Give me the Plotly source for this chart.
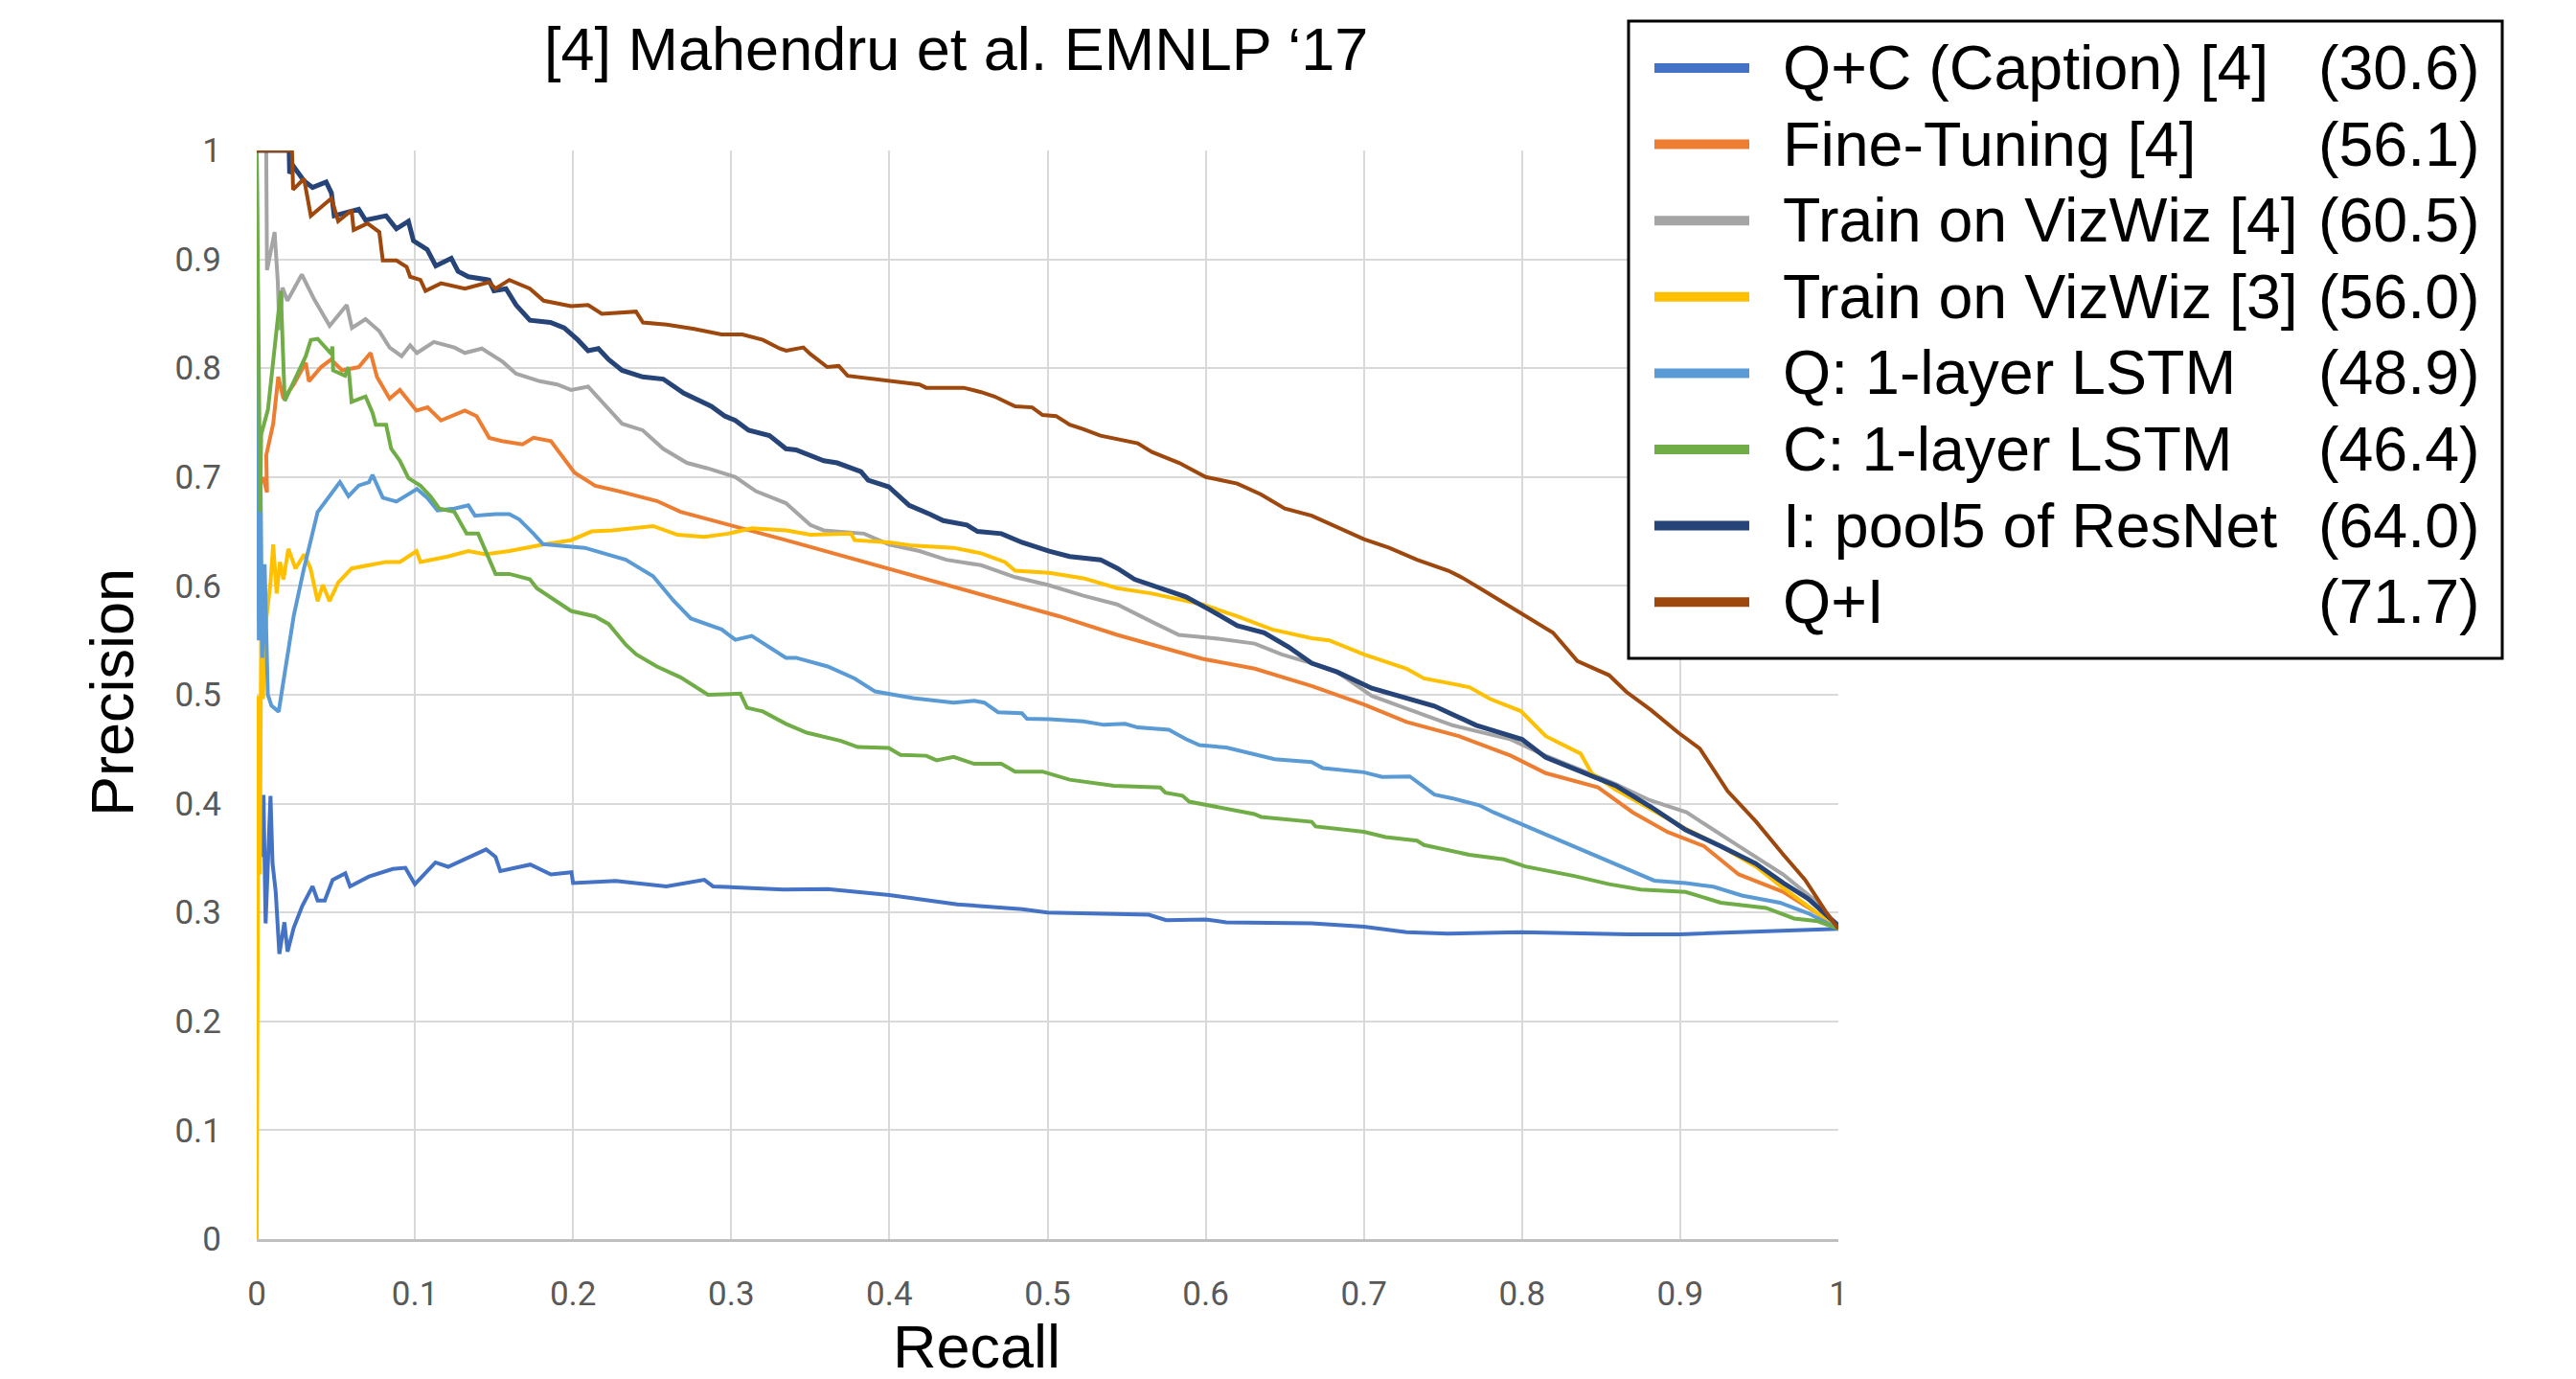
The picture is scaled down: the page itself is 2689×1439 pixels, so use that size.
import plotly.graph_objects as go

# ---------------- data ----------------
names = ["Q+C (Caption) [4]", "Fine-Tuning [4]", "Train on VizWiz [4]", "Train on VizWiz [3]",
         "Q: 1-layer LSTM", "C: 1-layer LSTM", "I: pool5 of ResNet", "Q+I"]
scores = ["(30.6)", "(56.1)", "(60.5)", "(56.0)", "(48.9)", "(46.4)", "(64.0)", "(71.7)"]
colors = ["#4472C4", "#ED7D31", "#A5A5A5", "#FFC000", "#5B9BD5", "#70AD47", "#264478", "#9E480E"]

qc_caption = [(0.0035, 0.351), (0.0043, 0.408), (0.0056, 0.29), (0.0087, 0.407), (0.010, 0.345),
              (0.012, 0.319), (0.0143, 0.262), (0.0175, 0.291), (0.0195, 0.264), (0.0234, 0.286),
              (0.0288, 0.306), (0.0353, 0.324), (0.0385, 0.311), (0.043, 0.311), (0.048, 0.330),
              (0.056, 0.336), (0.059, 0.324), (0.071, 0.333), (0.086, 0.340), (0.094, 0.341),
              (0.100, 0.326), (0.113, 0.346), (0.121, 0.342), (0.134, 0.351), (0.145, 0.358),
              (0.151, 0.351), (0.154, 0.338), (0.173, 0.344), (0.186, 0.335), (0.199, 0.337),
              (0.200, 0.327), (0.227, 0.329), (0.259, 0.324), (0.283, 0.330), (0.2885, 0.324),
              (0.333, 0.321), (0.361, 0.3215), (0.400, 0.316), (0.443, 0.3075), (0.484, 0.303),
              (0.500, 0.300), (0.564, 0.298), (0.575, 0.293), (0.600, 0.2935), (0.613, 0.291),
              (0.667, 0.290), (0.700, 0.287), (0.727, 0.282), (0.753, 0.2805), (0.799, 0.282),
              (0.868, 0.280), (0.900, 0.280), (0.961, 0.283), (1.0, 0.285)]

fine_tuning = [(0.004, 0.70), (0.0065, 0.686), (0.006, 0.72), (0.0104, 0.749), (0.0136, 0.792),
               (0.0169, 0.772), (0.0234, 0.785), (0.031, 0.805), (0.033, 0.788), (0.0407, 0.801),
               (0.047, 0.808), (0.054, 0.798), (0.0645, 0.801), (0.072, 0.814), (0.076, 0.792),
               (0.084, 0.772), (0.0905, 0.780), (0.101, 0.761), (0.108, 0.764), (0.1165, 0.752),
               (0.1316, 0.761), (0.139, 0.756), (0.147, 0.736), (0.155, 0.733), (0.168, 0.730),
               (0.175, 0.736), (0.186, 0.733), (0.2009, 0.704), (0.214, 0.692), (0.229, 0.687),
               (0.253, 0.678), (0.268, 0.668), (0.3346, 0.642), (0.4946, 0.577), (0.5076, 0.572),
               (0.544, 0.555), (0.598, 0.533), (0.631, 0.524), (0.667, 0.508), (0.700, 0.491),
               (0.727, 0.475), (0.760, 0.462), (0.793, 0.444), (0.815, 0.428), (0.848, 0.415),
               (0.870, 0.392), (0.892, 0.374), (0.915, 0.361), (0.937, 0.335), (0.965, 0.319),
               (0.987, 0.299), (1.0, 0.285)]

vizwiz4 = [(0.0, 1.0), (0.006, 1.0), (0.0065, 0.89), (0.0113, 0.925), (0.0133, 0.88),
           (0.0143, 0.835), (0.0163, 0.874), (0.0194, 0.862), (0.0285, 0.886), (0.0364, 0.863),
           (0.0461, 0.839), (0.0569, 0.858), (0.0602, 0.837), (0.0688, 0.845), (0.0775, 0.834),
           (0.084, 0.819), (0.0916, 0.811), (0.097, 0.821), (0.1013, 0.814), (0.112, 0.824),
           (0.125, 0.819), (0.1316, 0.814), (0.1424, 0.818), (0.1554, 0.806), (0.164, 0.795),
           (0.179, 0.788), (0.190, 0.785), (0.1987, 0.780), (0.2095, 0.783), (0.218, 0.770),
           (0.231, 0.749), (0.244, 0.743), (0.257, 0.726), (0.272, 0.713), (0.285, 0.708),
           (0.3026, 0.700), (0.3156, 0.687), (0.3346, 0.676), (0.35, 0.656), (0.3585, 0.651),
           (0.384, 0.648), (0.400, 0.638), (0.419, 0.632), (0.436, 0.624), (0.458, 0.619),
           (0.4795, 0.608), (0.500, 0.601), (0.5227, 0.591), (0.544, 0.583), (0.566, 0.567),
           (0.583, 0.555), (0.605, 0.552), (0.631, 0.547), (0.648, 0.537), (0.667, 0.529),
           (0.683, 0.521), (0.705, 0.499), (0.756, 0.472), (0.793, 0.459), (0.815, 0.444),
           (0.859, 0.418), (0.881, 0.403), (0.904, 0.392), (0.937, 0.361), (0.965, 0.335),
           (0.987, 0.309), (1.0, 0.285)]

vizwiz3 = [(0.0, 0.0), (0.0005, 0.33), (0.0012, 0.499), (0.002, 0.335), (0.0028, 0.557),
           (0.004, 0.496), (0.005, 0.557), (0.0087, 0.603), (0.0104, 0.638), (0.0126, 0.593),
           (0.0147, 0.622), (0.0169, 0.606), (0.020, 0.634), (0.0245, 0.616), (0.030, 0.629),
           (0.034, 0.616), (0.0385, 0.586), (0.0418, 0.601), (0.046, 0.586), (0.0515, 0.603),
           (0.060, 0.616), (0.071, 0.619), (0.0818, 0.622), (0.0905, 0.622), (0.101, 0.632),
           (0.1035, 0.622), (0.1208, 0.627), (0.1338, 0.632), (0.1446, 0.629), (0.1597, 0.632),
           (0.181, 0.638), (0.1987, 0.642), (0.2117, 0.650), (0.2247, 0.651), (0.2506, 0.655),
           (0.266, 0.647), (0.283, 0.645), (0.298, 0.648), (0.313, 0.653), (0.335, 0.651),
           (0.350, 0.647), (0.3758, 0.648), (0.378, 0.642), (0.400, 0.640), (0.4147, 0.637),
           (0.4406, 0.635), (0.458, 0.630), (0.473, 0.622), (0.4795, 0.614), (0.501, 0.612),
           (0.5227, 0.607), (0.544, 0.598), (0.566, 0.593), (0.598, 0.583), (0.62, 0.572),
           (0.642, 0.560), (0.667, 0.552), (0.678, 0.550), (0.700, 0.537), (0.727, 0.524),
           (0.738, 0.515), (0.7667, 0.507), (0.780, 0.496), (0.7993, 0.485), (0.815, 0.462),
           (0.837, 0.446), (0.844, 0.428), (0.859, 0.413), (0.881, 0.395), (0.9035, 0.377),
           (0.9256, 0.361), (0.948, 0.342), (0.963, 0.325), (0.981, 0.306), (1.0, 0.285)]

q_lstm = [(0.0, 1.0), (0.0006, 0.68), (0.0013, 0.55), (0.0024, 0.70), (0.0035, 0.534),
          (0.005, 0.62), (0.007, 0.50), (0.0093, 0.49), (0.0139, 0.4845), (0.0164, 0.508),
          (0.0194, 0.537), (0.0234, 0.5725), (0.0297, 0.615), (0.0385, 0.6678), (0.0526, 0.6954),
          (0.058, 0.6824), (0.0645, 0.6922), (0.071, 0.6954), (0.0732, 0.702), (0.0797, 0.681),
          (0.0883, 0.6775), (0.1013, 0.689), (0.1078, 0.681), (0.1143, 0.6694), (0.125, 0.671),
          (0.1338, 0.674), (0.138, 0.6645), (0.151, 0.666), (0.1597, 0.666), (0.166, 0.661),
          (0.175, 0.648), (0.181, 0.6384), (0.2074, 0.635), (0.2225, 0.6287), (0.2333, 0.624),
          (0.2506, 0.609), (0.2636, 0.5863), (0.2745, 0.570), (0.294, 0.560), (0.3026, 0.5505),
          (0.313, 0.554), (0.3346, 0.534), (0.341, 0.534), (0.361, 0.526), (0.378, 0.515),
          (0.391, 0.503), (0.415, 0.497), (0.4406, 0.4928), (0.4536, 0.4945), (0.46, 0.4928),
          (0.4687, 0.484), (0.4838, 0.483), (0.487, 0.478), (0.501, 0.4776), (0.5227, 0.4756),
          (0.5356, 0.4724), (0.549, 0.4733), (0.557, 0.470), (0.5767, 0.4678), (0.5875, 0.4593),
          (0.596, 0.4538), (0.613, 0.4515), (0.6307, 0.4457), (0.6436, 0.4408), (0.667, 0.4382),
          (0.674, 0.4327), (0.700, 0.4288), (0.7115, 0.4246), (0.729, 0.425), (0.7446, 0.4083),
          (0.7556, 0.405), (0.773, 0.3985), (0.782, 0.392), (0.8704, 0.3367), (0.8836, 0.3293),
          (0.9035, 0.327), (0.921, 0.3237), (0.939, 0.3156), (0.963, 0.309), (0.981, 0.2993),
          (1.0, 0.285)]

c_lstm = [(0.0, 1.0), (0.0022, 0.668), (0.0028, 0.739), (0.0071, 0.762), (0.0152, 0.871),
          (0.0177, 0.770), (0.031, 0.811), (0.0342, 0.826), (0.0385, 0.827), (0.0472, 0.813),
          (0.0478, 0.82), (0.0483, 0.798), (0.0558, 0.793), (0.058, 0.801), (0.060, 0.769),
          (0.0688, 0.774), (0.0732, 0.759), (0.0753, 0.748), (0.0818, 0.748), (0.085, 0.726),
          (0.0905, 0.715), (0.0959, 0.699), (0.1035, 0.692), (0.11, 0.682), (0.1154, 0.671),
          (0.125, 0.668), (0.1327, 0.648), (0.140, 0.648), (0.151, 0.611), (0.1597, 0.611),
          (0.1727, 0.606), (0.177, 0.598), (0.1987, 0.577), (0.2139, 0.572), (0.2225, 0.565),
          (0.2333, 0.546), (0.240, 0.537), (0.253, 0.526), (0.268, 0.516), (0.2853, 0.500),
          (0.3058, 0.501), (0.310, 0.488), (0.32, 0.4847), (0.3346, 0.4733), (0.3477, 0.4652),
          (0.3693, 0.4577), (0.38, 0.452), (0.3996, 0.4512), (0.407, 0.4447), (0.4233, 0.444),
          (0.4298, 0.4398), (0.4406, 0.443), (0.4536, 0.4366), (0.4708, 0.4366), (0.4795, 0.4294),
          (0.4968, 0.4294), (0.514, 0.422), (0.5421, 0.4164), (0.5713, 0.4148), (0.5745, 0.41),
          (0.5853, 0.4073), (0.5896, 0.4018), (0.6307, 0.3904), (0.635, 0.3878), (0.667, 0.3833),
          (0.6695, 0.379), (0.700, 0.3741), (0.7137, 0.3693), (0.7336, 0.366), (0.738, 0.362),
          (0.7667, 0.353), (0.7887, 0.3488), (0.802, 0.3423), (0.833, 0.3335), (0.855, 0.326),
          (0.875, 0.3211), (0.9035, 0.3189), (0.9256, 0.309), (0.9543, 0.3042), (0.972, 0.2945),
          (0.987, 0.292), (1.0, 0.285)]

resnet = [(0.0, 1.0), (0.0205, 1.0), (0.0208, 0.979), (0.0234, 0.985), (0.0299, 0.972),
          (0.0353, 0.966), (0.0439, 0.971), (0.0472, 0.961), (0.049, 0.940), (0.060, 0.945),
          (0.0645, 0.946), (0.0688, 0.936), (0.0818, 0.940), (0.0883, 0.928), (0.0959, 0.935),
          (0.0991, 0.917), (0.1078, 0.909), (0.1132, 0.894), (0.123, 0.901), (0.1273, 0.889),
          (0.1338, 0.884), (0.1468, 0.881), (0.150, 0.871), (0.1576, 0.873), (0.164, 0.858),
          (0.1727, 0.844), (0.1857, 0.842), (0.1944, 0.837), (0.203, 0.826), (0.2095, 0.816),
          (0.216, 0.818), (0.2225, 0.808), (0.231, 0.798), (0.244, 0.792), (0.257, 0.790),
          (0.270, 0.777), (0.2874, 0.765), (0.296, 0.756), (0.3026, 0.752), (0.311, 0.743),
          (0.3242, 0.738), (0.3346, 0.726), (0.341, 0.725), (0.3585, 0.715), (0.367, 0.713),
          (0.382, 0.705), (0.3866, 0.697), (0.3996, 0.691), (0.4125, 0.674), (0.4255, 0.666),
          (0.4341, 0.660), (0.449, 0.656), (0.4557, 0.650), (0.4708, 0.648), (0.4838, 0.640),
          (0.501, 0.632), (0.514, 0.627), (0.5335, 0.624), (0.5443, 0.616), (0.555, 0.606),
          (0.5724, 0.598), (0.5875, 0.590), (0.6026, 0.578), (0.62, 0.5635), (0.637, 0.557),
          (0.6523, 0.544), (0.667, 0.529), (0.683, 0.521), (0.705, 0.506), (0.7446, 0.4896),
          (0.771, 0.472), (0.80, 0.459), (0.815, 0.4424), (0.837, 0.4294), (0.8594, 0.4164),
          (0.8815, 0.397), (0.9035, 0.3758), (0.9256, 0.361), (0.9477, 0.345), (0.9653, 0.327),
          (0.9808, 0.3128), (1.0, 0.288)]

q_plus_i = [(0.0, 1.0), (0.0223, 1.0), (0.023, 0.964), (0.0299, 0.974), (0.0342, 0.940),
            (0.0472, 0.956), (0.0515, 0.935), (0.060, 0.945), (0.0613, 0.927), (0.070, 0.933),
            (0.0775, 0.925), (0.0797, 0.899), (0.0883, 0.899), (0.0948, 0.893), (0.097, 0.884),
            (0.1035, 0.881), (0.1067, 0.871), (0.1165, 0.878), (0.1316, 0.873), (0.1468, 0.879),
            (0.151, 0.873), (0.1597, 0.881), (0.1727, 0.873), (0.1814, 0.862), (0.1987, 0.857),
            (0.2095, 0.858), (0.2182, 0.850), (0.2398, 0.852), (0.2442, 0.842), (0.2593, 0.840),
            (0.2766, 0.836), (0.2939, 0.831), (0.307, 0.831), (0.32, 0.826), (0.3307, 0.818),
            (0.3348, 0.816), (0.3456, 0.819), (0.35, 0.813), (0.3607, 0.801), (0.368, 0.802),
            (0.3736, 0.793), (0.3996, 0.788), (0.419, 0.785), (0.4233, 0.782), (0.447, 0.782),
            (0.458, 0.778), (0.4665, 0.774), (0.4795, 0.765), (0.4903, 0.764), (0.4968, 0.757),
            (0.5054, 0.756), (0.514, 0.748), (0.5227, 0.744), (0.5335, 0.738), (0.557, 0.731),
            (0.566, 0.723), (0.5832, 0.713), (0.600, 0.700), (0.6199, 0.694), (0.635, 0.684),
            (0.650, 0.671), (0.667, 0.6645), (0.6806, 0.656), (0.700, 0.643), (0.716, 0.635),
            (0.7336, 0.624), (0.7534, 0.614), (0.7623, 0.6075), (0.7755, 0.596), (0.7993, 0.575),
            (0.8196, 0.557), (0.835, 0.531), (0.855, 0.518), (0.866, 0.5026), (0.8815, 0.486),
            (0.899, 0.465), (0.9124, 0.4506), (0.93, 0.4115), (0.9477, 0.3839), (0.9653, 0.353),
            (0.979, 0.330), (0.992, 0.301), (1.0, 0.285)]

series = [qc_caption, fine_tuning, vizwiz4, vizwiz3, q_lstm, c_lstm, resnet, q_plus_i]
line_widths = [4, 4, 4, 4, 4, 4, 5, 4]
ticks = [0, 0.1, 0.2, 0.3, 0.4, 0.5, 0.6, 0.7, 0.8, 0.9, 1]
tick_text = ["0", "0.1", "0.2", "0.3", "0.4", "0.5", "0.6", "0.7", "0.8", "0.9", "1"]

# ---------------- figure ----------------
W, H = 2689, 1439
L, R, T, B = 268, 2689 - 1919, 157, 1439 - 1293
pw, ph = W - L - R, H - T - B


def px_x(px):
    return (px - L) / pw


def px_y(py):
    return (H - B - py) / ph


fig = go.Figure()
for name, pts, col, lw in zip(names, series, colors, line_widths):
    fig.add_trace(go.Scatter(x=[p[0] for p in pts], y=[p[1] for p in pts], mode="lines",
                             name=name, line=dict(color=col, width=lw), showlegend=False))

tick_font = dict(family="Roboto, Liberation Sans, sans-serif", size=35, color="#595959")
fig.update_xaxes(range=[0, 1], tickvals=ticks, ticktext=tick_text, showgrid=True,
                 gridcolor="#D9D9D9", gridwidth=2, zeroline=False, showline=True,
                 linecolor="#BFBFBF", linewidth=3, ticks="", tickfont=tick_font,
                 ticklabelstandoff=24, fixedrange=True)
fig.update_yaxes(range=[0, 1], tickvals=ticks, ticktext=tick_text, showgrid=True,
                 gridcolor="#D9D9D9", gridwidth=2, zeroline=False, showline=False,
                 ticks="", tickfont=tick_font, ticklabelstandoff=36, fixedrange=True)

big = dict(family="Liberation Sans, Arial, sans-serif", size=63, color="black")
leg = dict(family="Liberation Sans, Arial, sans-serif", size=64.5, color="black")
annotations = [
    dict(text="[4] Mahendru et al. EMNLP \u201817", x=px_x(998), y=px_y(51), xref="paper",
         yref="paper", xanchor="center", yanchor="middle", showarrow=False, font=big),
    dict(text="Precision", x=px_x(117), y=px_y(723), xref="paper", yref="paper",
         xanchor="center", yanchor="middle", textangle=-90, showarrow=False, font=big),
    dict(text="Recall", x=px_x(1019), y=px_y(1368), xref="paper", yref="paper",
         xanchor="center", yanchor="top", showarrow=False, font=big),
]

shapes = [dict(type="rect", xref="paper", yref="paper", x0=px_x(1700), x1=px_x(2612),
               y0=px_y(687), y1=px_y(22), line=dict(color="black", width=3),
               fillcolor="white", layer="above")]

row0, step = 71, 79.6
for i, (name, sc, col) in enumerate(zip(names, scores, colors)):
    cy = row0 + step * i
    shapes.append(dict(type="line", xref="paper", yref="paper", x0=px_x(1727), x1=px_x(1826),
                       y0=px_y(cy), y1=px_y(cy), line=dict(color=col, width=10), layer="above"))
    annotations.append(dict(text=name, x=px_x(1859), y=px_y(cy), xref="paper", yref="paper",
                            xanchor="left", yanchor="middle", showarrow=False, font=leg))
    annotations.append(dict(text=sc, x=px_x(2591), y=px_y(cy), xref="paper", yref="paper",
                            xanchor="right", yanchor="middle", showarrow=False, font=leg))

fig.update_layout(width=W, height=H, margin=dict(l=L, r=R, t=T, b=B, autoexpand=False),
                  paper_bgcolor="white", plot_bgcolor="white", showlegend=False,
                  annotations=annotations, shapes=shapes)

fig.write_html("out.html", config={"displayModeBar": False},
               post_script="document.body.style.margin='0';document.body.style.overflow='hidden';")
